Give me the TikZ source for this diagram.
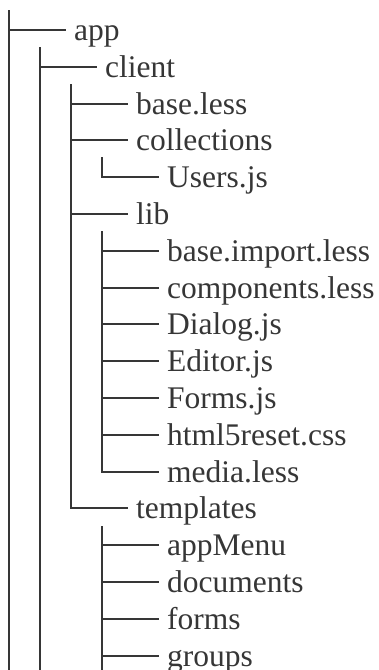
\documentclass[tikz,border=0pt]{standalone}
\usepackage{fontspec}
\setmainfont{Liberation Serif}
\definecolor{ink}{HTML}{363636}
\begin{document}
\begin{tikzpicture}[x=1pt,y=-1pt,
  tree/.style={draw=ink, line width=2pt, line cap=rect},
  item/.style={anchor=base west, inner sep=0pt, text=ink, font=\fontsize{31.5}{36}\selectfont}]
\useasboundingbox (0,0) rectangle (378,670);
\foreach \i/\l/\t in {0/0/app, 1/1/client, 2/2/base.less, 3/2/collections, 4/3/Users.js, 5/2/lib,
  6/3/base.import.less, 7/3/components.less, 8/3/Dialog.js, 9/3/Editor.js, 10/3/Forms.js,
  11/3/html5reset.css, 12/3/media.less, 13/2/templates, 14/3/appMenu, 15/3/documents,
  16/3/forms, 17/3/groups}{
  \pgfmathtruncatemacro\yy{round(30+36.8*\i)}
  \pgfmathtruncatemacro\xx{9+31*\l}
  \coordinate (j\i) at (\xx,\yy);
  \coordinate (e\i) at (\xx+56,\yy);
  \node[item] (n\i) at (\xx+65,\yy+10) {\t};
  \draw[tree] (j\i) -- (e\i);
}
% vertical guides
\coordinate (t0) at (9,11);   \coordinate (b0) at (9,671);
\coordinate (t1) at (40,48);  \coordinate (b1) at (40,671);
\coordinate (t2) at (71,85);
\coordinate (t3) at (102,158);
\coordinate (t5) at (102,232);
\coordinate (t13) at (102,527); \coordinate (b13) at (102,671);
\draw[tree] (t0) -- (b0);
\draw[tree] (t1) -- (b1);
\draw[tree] (t2) -- (j13);
\draw[tree] (t3) -- (j4);
\draw[tree] (t5) -- (j12);
\draw[tree] (t13) -- (b13);
\end{tikzpicture}
\end{document}
